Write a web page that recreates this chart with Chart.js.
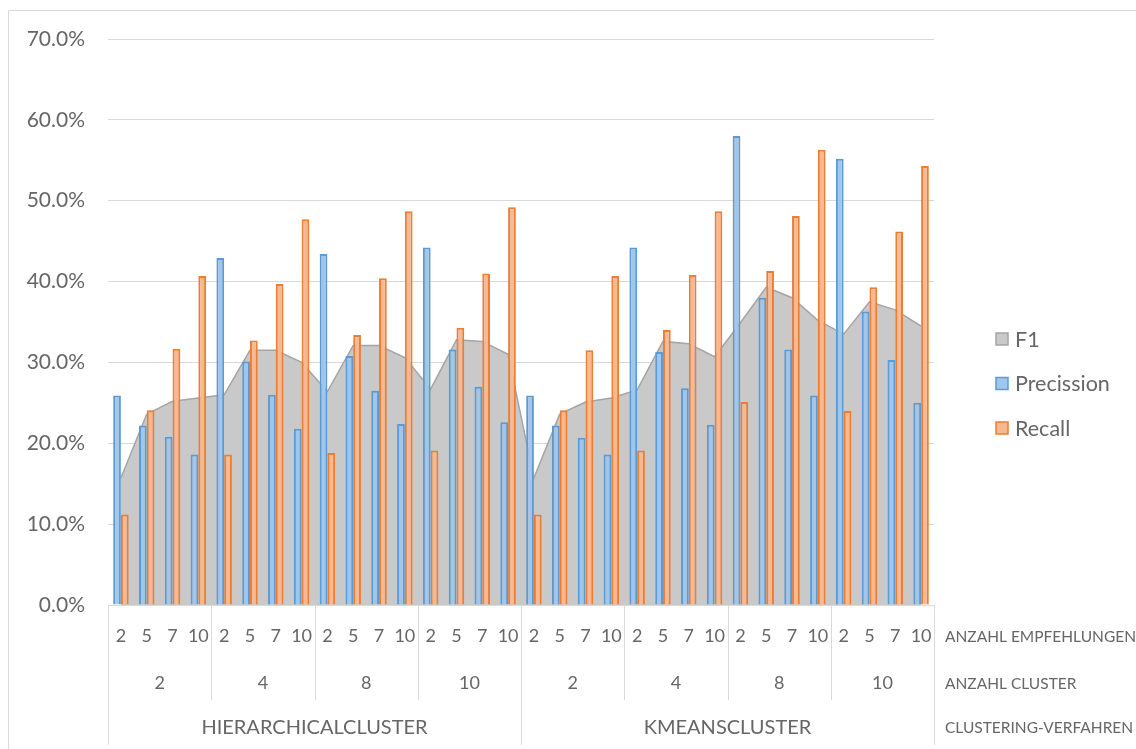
<!DOCTYPE html>
<html>
<head>
<meta charset="utf-8">
<script src="https://cdn.jsdelivr.net/npm/chart.js@4"></script>
<style>
  body { margin: 0; background: #fff; }
  #wrap { width: 1136px; height: 749px; position: relative; }
</style>
</head>
<body>
<div id="wrap"><canvas id="myChart"></canvas></div>
<script>
// Kategorien (drei Ebenen)
var verfahren = ['HIERARCHICALCLUSTER', 'KMEANSCLUSTER'];
var anzahl_cluster = ['2', '4', '8', '10'];
var anzahl_empfehlungen = ['2', '5', '7', '10'];
var ebenen_titel = ['ANZAHL EMPFEHLUNGEN', 'ANZAHL CLUSTER', 'CLUSTERING-VERFAHREN'];

// Werte in Prozent, Reihenfolge: Verfahren > Cluster > Empfehlungen
var f1 = [
  15.7, 23.6, 25.2, 25.6,  26.0, 31.5, 31.5, 30.0,  26.4, 32.1, 32.1, 30.6,  26.7, 32.8, 32.6, 31.0,
  15.7, 23.6, 25.1, 25.6,  26.6, 32.6, 32.3, 30.7,  34.9, 39.3, 38.0, 35.2,  33.5, 37.5, 36.5, 34.5
];
var precission = [
  25.9, 22.2, 20.8, 18.6,  42.9, 30.1, 26.0, 21.8,  43.4, 30.8, 26.5, 22.4,  44.2, 31.6, 27.0, 22.6,
  25.9, 22.2, 20.7, 18.6,  44.2, 31.3, 26.8, 22.3,  58.0, 38.0, 31.6, 25.9,  55.2, 36.3, 30.3, 25.0
];
var recall = [
  11.2, 24.1, 31.7, 40.7,  18.6, 32.7, 39.7, 47.7,  18.8, 33.4, 40.4, 48.7,  19.1, 34.3, 41.0, 49.2,
  11.2, 24.1, 31.5, 40.7,  19.1, 34.0, 40.8, 48.7,  25.1, 41.3, 48.1, 56.3,  24.0, 39.3, 46.2, 54.3
];
var y_ticks = [0, 10, 20, 30, 40, 50, 60, 70];

var labels = [];
for (var v = 0; v < verfahren.length; v++) {
  for (var c = 0; c < anzahl_cluster.length; c++) {
    for (var e = 0; e < anzahl_empfehlungen.length; e++) {
      labels.push(verfahren[v] + ' ' + anzahl_cluster[c] + ' ' + anzahl_empfehlungen[e]);
    }
  }
}

var schrift = "Lato, 'Open Sans', sans-serif";
var grau_text = '#666666';
var linie = '#d9d9d9';

// Mehrstufige Achse, Legende und Rahmen von Hand zeichnen
var achsen_plugin = {
  id: 'achsen_plugin',
  afterDraw: function (chart) {
    var ctx = chart.ctx;
    var area = chart.chartArea;
    var x = chart.scales.x;
    var n = labels.length;
    var breite = (area.right - area.left) / n;
    var kante = function (i) { return x.getPixelForValue(i) - breite / 2; };
    var proCluster = anzahl_empfehlungen.length;
    var proVerfahren = anzahl_cluster.length * proCluster;

    ctx.save();
    // Rahmen
    ctx.strokeStyle = linie;
    ctx.lineWidth = 1;
    ctx.beginPath();
    ctx.moveTo(8.5, chart.height);
    ctx.lineTo(8.5, 10.5);
    ctx.lineTo(chart.width, 10.5);
    ctx.stroke();

    // x-Achse
    ctx.beginPath();
    ctx.moveTo(area.left, area.bottom + 0.5);
    ctx.lineTo(area.right, area.bottom + 0.5);
    ctx.stroke();

    // Trennlinien
    ctx.beginPath();
    for (var i = 0; i <= n; i += proCluster) {
      var px = Math.round(i < n ? kante(i) : area.right) + 0.5;
      var unten = (i % proVerfahren === 0) ? 745 : 700;
      ctx.moveTo(px, area.bottom);
      ctx.lineTo(px, unten);
    }
    ctx.stroke();

    ctx.fillStyle = grau_text;
    ctx.textAlign = 'center';
    ctx.textBaseline = 'middle';
    ctx.font = '18px ' + schrift;
    for (var j = 0; j < n; j++) {
      ctx.fillText(anzahl_empfehlungen[j % proCluster], x.getPixelForValue(j), 636);
    }
    for (var g = 0; g < n / proCluster; g++) {
      var mitte = kante(g * proCluster) + breite * proCluster / 2;
      ctx.fillText(anzahl_cluster[g % anzahl_cluster.length], mitte, 683);
    }
    ctx.font = '20px ' + schrift;
    for (var h = 0; h < verfahren.length; h++) {
      var m = kante(h * proVerfahren) + breite * proVerfahren / 2;
      ctx.fillText(verfahren[h], m, 728);
    }

    ctx.textAlign = 'left';
    ctx.font = '15.5px ' + schrift;
    var zeilen = [637, 684, 728];
    for (var k = 0; k < ebenen_titel.length; k++) {
      ctx.fillText(ebenen_titel[k], area.right + 11, zeilen[k]);
    }

    // Legende
    ctx.font = '21.5px ' + schrift;
    chart.data.datasets.forEach(function (ds, idx) {
      var ly = 339 + idx * 44.5;
      ctx.fillStyle = ds.backgroundColor;
      ctx.fillRect(996, ly - 6, 12, 12);
      ctx.strokeStyle = ds.borderColor;
      ctx.lineWidth = 1.5;
      ctx.strokeRect(996, ly - 6, 12, 12);
      ctx.fillStyle = grau_text;
      ctx.fillText(ds.label, 1015, ly + 1);
    });
    ctx.restore();
  }
};

const ctx = document.getElementById('myChart');
const grafico = new Chart(ctx, {
  type: 'bar',
  data: {
    labels: labels,
    datasets: [
      {
        type: 'line',
        label: 'F1',
        data: f1,
        fill: 'origin',
        backgroundColor: '#c9c9c9',
        borderColor: '#a5a5a5',
        borderWidth: 1.5,
        pointRadius: 0,
        tension: 0,
        order: 2
      },
      {
        label: 'Precission',
        data: precission,
        backgroundColor: '#a3c5e8',
        borderColor: '#5b9bd5',
        borderWidth: 2,
        order: 1
      },
      {
        label: 'Recall',
        data: recall,
        backgroundColor: '#f6b994',
        borderColor: '#ed7d31',
        borderWidth: 2,
        order: 1
      }
    ]
  },
  options: {
    responsive: true,
    maintainAspectRatio: false,
    animation: false,
    categoryPercentage: 0.6,
    barPercentage: 1.0,
    layout: { padding: { left: 0, top: 39, right: 202, bottom: 144 } },
    plugins: {
      legend: { display: false },
      tooltip: { enabled: false }
    },
    scales: {
      x: {
        display: false,
        offset: true
      },
      y: {
        min: 0,
        max: 70,
        afterFit: function (s) { s.width = 108; },
        afterBuildTicks: function (s) { s.ticks = y_ticks.map(function (t) { return { value: t }; }); },
        grid: { color: linie, lineWidth: 1, drawTicks: false },
        border: { display: false },
        ticks: {
          padding: 23,
          color: grau_text,
          font: { family: schrift, size: 21 },
          callback: function (v) { return v.toFixed(1) + '%'; }
        }
      }
    }
  },
  plugins: [achsen_plugin]
});
</script>
</body>
</html>
